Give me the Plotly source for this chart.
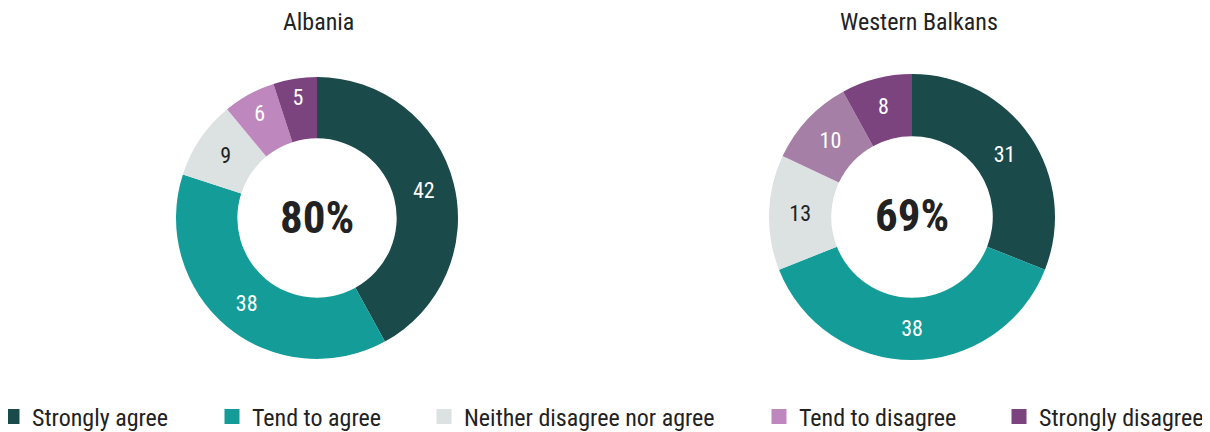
import plotly.graph_objects as go

categories = ["Strongly agree", "Tend to agree", "Neither disagree nor agree",
              "Tend to disagree", "Strongly disagree"]
albania = [42, 38, 9, 6, 5]
balkans = [31, 38, 13, 10, 8]
albania_total = "80%"
balkans_total = "69%"
titles = ["Albania", "Western Balkans"]

colors_alb = ["#1b4a4a", "#149c98", "#dce1e1", "#be88be", "#7c447e"]
colors_wb = ["#1b4a4a", "#149c98", "#dce1e1", "#a57fa5", "#7c447e"]
text_colors = ["white", "white", "#222222", "white", "white"]

FONT = "Liberation Sans Narrow, Roboto Condensed, Noto Sans Condensed, DejaVu Sans Condensed, Liberation Sans, sans-serif"
W, H = 1210, 432
PAGE_OFF = 8  # default body margin of the page


def px_x(v):
    return (v - PAGE_OFF) / W


def px_y(v):
    return 1 - (v - PAGE_OFF) / H


fig = go.Figure()

annotations = []
pies = [
    (albania, albania_total, colors_alb, (176, 458), (77, 359)),
    (balkans, balkans_total, colors_wb, (769, 1055), (74, 360)),
]
for vals, tot, cols, (x0, x1), (y0, y1) in pies:
    fig.add_trace(go.Pie(
        labels=categories, values=vals, sort=False, direction="clockwise",
        rotation=0, hole=0.565,
        marker=dict(colors=cols, line=dict(width=0)),
        textinfo="value", textposition="inside",
        insidetextorientation="horizontal",
        textfont=dict(family=FONT, size=22, color=text_colors),
        domain=dict(x=[px_x(x0), px_x(x1)], y=[px_y(y1), px_y(y0)]),
        showlegend=False, hoverinfo="label+value",
    ))
    annotations.append(dict(
        text="<b>" + tot + "</b>", x=px_x((x0 + x1) / 2), y=px_y((y0 + y1) / 2 - 1),
        xref="paper", yref="paper", xanchor="center", yanchor="middle",
        showarrow=False, font=dict(family=FONT, size=45, color="#222222"),
    ))

# legend entries
legend_text_start = [31, 251, 463, 798, 1038]
layout_legends = {}
for i, (cat, col) in enumerate(zip(categories, colors_alb)):
    lname = "legend" if i == 0 else f"legend{i+1}"
    fig.add_trace(go.Scatter(
        x=[None], y=[None], mode="markers", name=cat,
        marker=dict(symbol="square", size=15, color=col),
        legend=lname, showlegend=True,
    ))
    layout_legends[lname] = dict(
        x=px_x(legend_text_start[i] - 39), xanchor="left",
        y=px_y(417), yanchor="middle",
        orientation="h", bgcolor="rgba(0,0,0,0)",
        font=dict(family=FONT, size=24, color="#222222"),
        itemwidth=30,
    )

annotations += [
    dict(text=titles[0], x=px_x(318), y=px_y(22), xref="paper", yref="paper",
         xanchor="center", yanchor="middle",
         showarrow=False, font=dict(family=FONT, size=24, color="#222222")),
    dict(text=titles[1], x=px_x(919), y=px_y(22), xref="paper", yref="paper",
         xanchor="center", yanchor="middle",
         showarrow=False, font=dict(family=FONT, size=24, color="#222222")),
]

fig.update_layout(
    width=W, height=H,
    margin=dict(l=0, r=0, t=0, b=0, autoexpand=False),
    paper_bgcolor="white", plot_bgcolor="white",
    xaxis=dict(visible=False), yaxis=dict(visible=False),
    annotations=annotations,
    **layout_legends,
)

fig.write_html("out.html")
